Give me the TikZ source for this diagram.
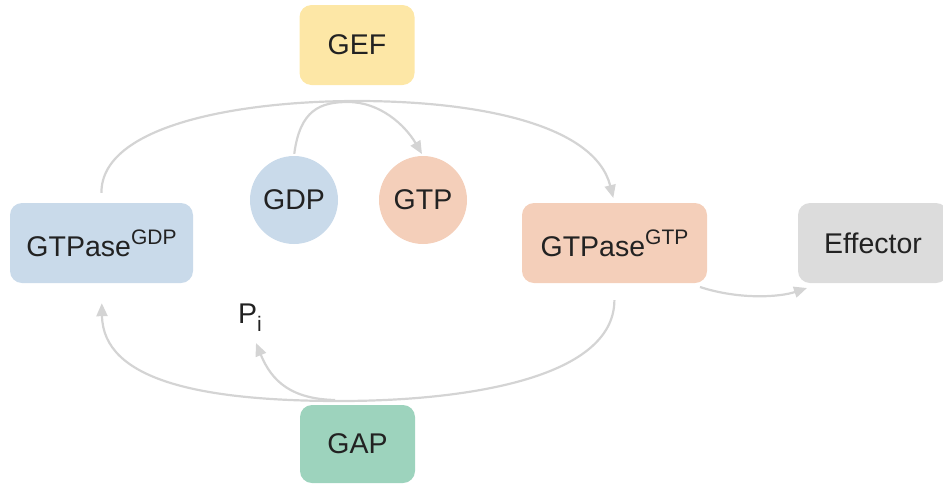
\documentclass[tikz,border=0pt]{standalone}
\usepackage{fontspec}
\setmainfont{Liberation Sans}
\usetikzlibrary{arrows.meta}
\definecolor{cgef}{HTML}{FDE7A6}
\definecolor{cgdp}{HTML}{C9DAEA}
\definecolor{cgtp}{HTML}{F4CFBA}
\definecolor{ceff}{HTML}{DCDCDC}
\definecolor{cgap}{HTML}{9DD3BD}
\definecolor{cline}{HTML}{D4D4D4}
\definecolor{ctext}{HTML}{222222}
\newcommand{\supx}[1]{\raisebox{12pt}{\fontsize{21}{24}\selectfont #1}}
\tikzset{
  box/.style={rectangle, rounded corners=12pt, minimum height=80pt, inner sep=0pt, text=ctext, font=\fontsize{28.5}{34}\selectfont},
  ball/.style={circle, minimum size=88pt, inner sep=0pt, text=ctext, font=\fontsize{28.5}{34}\selectfont},
  arr/.style={draw=cline, line width=2.2pt, -{Triangle[length=13pt,width=11pt]}},
  ln/.style={draw=cline, line width=2.2pt}
}
\begin{document}
\begin{tikzpicture}[x=1pt,y=-1pt]
\useasboundingbox (0,0) rectangle (943,483);
\node[box, fill=cgef, minimum width=115pt] (gef) at (357,45) {GEF};
\node[box, fill=cgdp, minimum width=183pt] (gdpase) at (101.5,243) {GTPase\supx{GDP}};
\node[box, fill=cgtp, minimum width=185pt] (gtpase) at (614.5,243) {GTPase\supx{GTP}};
\node[box, fill=ceff, minimum width=150pt] (eff) at (873,243) {Effector};
\node[box, fill=cgap, minimum width=115pt, minimum height=78pt] (gap) at (357.5,444) {GAP};
\node[ball, fill=cgdp] (gdp) at (294,200) {GDP};
\node[ball, fill=cgtp] (gtp) at (423,200) {GTP};
\node[text=ctext, font=\fontsize{28.5}{34}\selectfont, anchor=base west, inner sep=0pt] (pi) at (238,323) {P\raisebox{-8pt}{\fontsize{21}{24}\selectfont i}};
\coordinate (pit) at (256,343);
\coordinate (br) at (335,400);
\coordinate (es) at (700,287);
\coordinate (et) at (807,288);
% GEF activation arc
\draw[arr, shorten <=10pt, shorten >=5pt] (gdpase.north) .. controls (101,125) and (240,101) .. (357,101) .. controls (480,101) and (595,125) .. (gtpase.north);
% GDP -> GTP exchange
\draw[arr, shorten <=2pt, shorten >=2pt] (gdp.north) .. controls (300,110) and (320,102) .. (348,102) .. controls (380,102) and (405,125) .. (gtp.north);
% GAP hydrolysis arc
\draw[arr, shorten <=17pt, shorten >=20pt] (gtpase.south) .. controls (614,380) and (460,401) .. (340,401) .. controls (200,401) and (103,380) .. (gdpase.south);
% release of Pi
\draw[arr] (br) .. controls (292,399) and (272,382) .. (pit);
% Effector
\draw[arr] (es) .. controls (740,300) and (780,297) .. (et);
\end{tikzpicture}
\end{document}
